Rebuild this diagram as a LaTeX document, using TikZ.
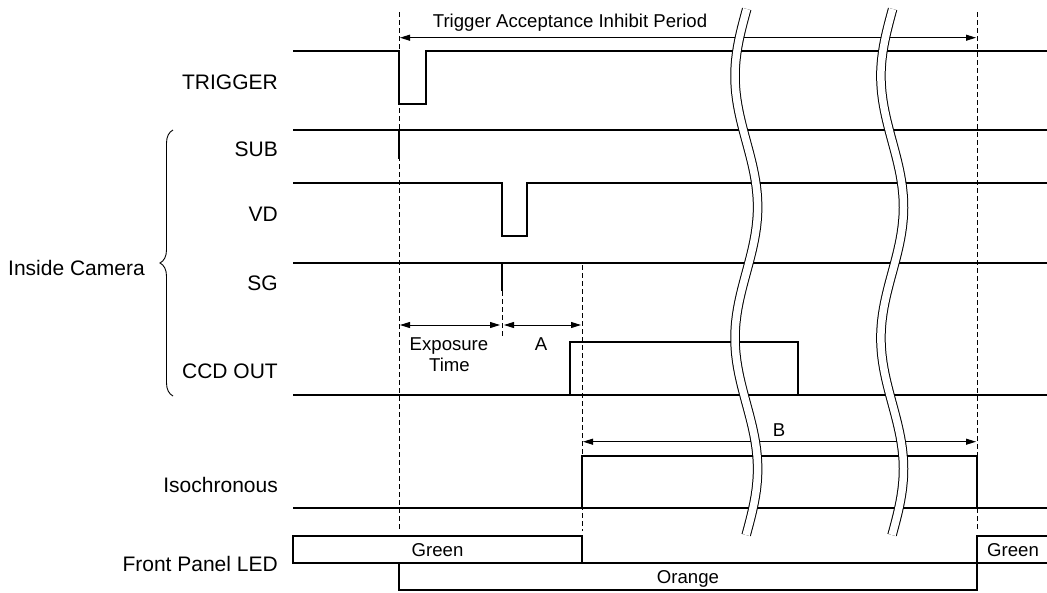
\documentclass[tikz,border=0pt]{standalone}
\usepackage{fontspec}
\setmainfont{Liberation Sans}
\usetikzlibrary{arrows.meta,decorations.pathreplacing}
\begin{document}
\begin{tikzpicture}[x=1pt,y=-1pt,
  sig/.style={line width=2.3pt, line join=miter, line cap=butt},
  guide/.style={line width=0.9pt, dash pattern=on 5pt off 3pt},
  dim/.style={line width=0.9pt, {Triangle[length=10pt,width=6pt]}-{Triangle[length=10pt,width=6pt]}},
  lbl/.style={font=\fontsize{21}{25}\selectfont, inner sep=0pt, anchor=base east},
  ann/.style={font=\fontsize{18.6}{22}\selectfont, inner sep=0pt, anchor=base},
  brk/.style={line width=1pt, double=white, double distance=7.5pt}]
\useasboundingbox (0,0) rectangle (1047,592);
\clip (0,0) rectangle (1047,592);

% guide (dashed) lines
\draw[guide] (399,12) -- (399,531);
\draw[guide] (977,12) -- (977,531);
\draw[guide] (582,265) -- (582,531);
\draw[guide] (502,291) -- (502,338);

% TRIGGER
\draw[sig] (293,51) -- (399,51) -- (399,104) -- (426,104) -- (426,51) -- (1047,51);
% SUB
\draw[sig] (293,130) -- (1047,130);
\draw[sig] (399,130) -- (399,159);
% VD
\draw[sig] (293,183) -- (502,183) -- (502,236) -- (527,236) -- (527,183) -- (1047,183);
% SG
\draw[sig] (293,263) -- (1047,263);
\draw[sig] (502,263) -- (502,291);
% CCD OUT
\draw[sig] (293,395) -- (1047,395);
\draw[sig] (570,395) -- (570,342.3) -- (798,342.3) -- (798,395);
% Isochronous
\draw[sig] (293,508.3) -- (1047,508.3);
\draw[sig] (582,508.3) -- (582,455.7) -- (977,455.7) -- (977,508.3);
% Front panel LED
\draw[sig] (293,535.7) rectangle (582,563.3);
\draw[sig] (399,563.3) rectangle (977,590);
\draw[sig] (977,535.7) rectangle (1070,563.3);

% dimension arrows
\draw[dim] (400,37.7) -- (976,37.7);
\draw[dim] (400,325) -- (500,325);
\draw[dim] (504,325) -- (581,325);
\draw[dim] (583,441.7) -- (976,441.7);

% wavy breaks
\foreach \cx in {746.3,892.2}
  \draw[brk] plot[domain=9:535, samples=120, smooth] ({\cx+11.3*cos(1.3740*(\x-207))}, {\x});

% brace
\draw[line width=0.9pt, decorate, decoration={brace, amplitude=13pt}] (173,396) -- (173,130);

% labels
\node[lbl] (ltrig) at (278,89.5) {TRIGGER};
\node[lbl] (lsub) at (278,156) {SUB};
\node[lbl] (lvd) at (278,221) {VD};
\node[lbl] (lsg) at (278,290) {SG};
\node[lbl] (lccd) at (278,378.5) {CCD OUT};
\node[lbl] (liso) at (278,492.7) {Isochronous};
\node[lbl] (lled) at (278,571) {Front Panel LED};
\node[lbl, anchor=base west] (lcam) at (8,275) {Inside Camera};

% annotations
\node[ann] (tperiod) at (570,27.5) {Trigger Acceptance Inhibit Period};
\node[ann] (texp1) at (449,350) {Exposure};
\node[ann] (texp2) at (449.5,371.7) {Time};
\node[ann] (ta) at (541,350) {A};
\node[ann] (tb) at (779,436.5) {B};
\node[ann] (tg1) at (437.5,556) {Green};
\node[ann] (tor) at (688,583.3) {Orange};
\node[ann] (tg2) at (1013,556) {Green};
\end{tikzpicture}
\end{document}
